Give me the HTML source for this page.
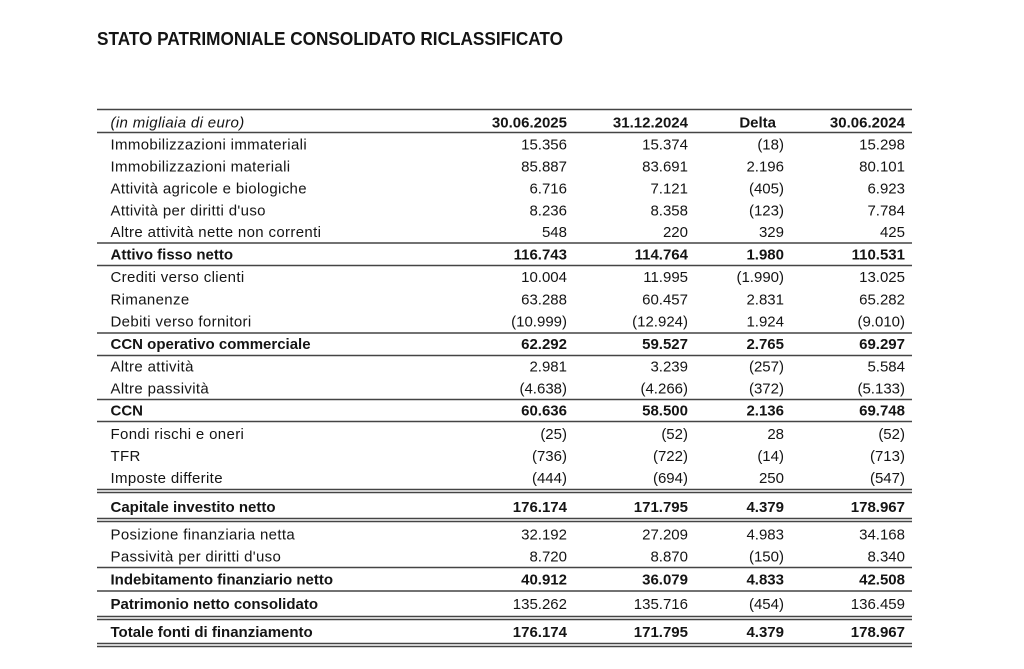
<!DOCTYPE html>
<html><head><meta charset="utf-8"><style>
html,body{margin:0;padding:0;background:#fff;width:1024px;height:669px;overflow:hidden}
svg{display:block}
text{font-family:"Liberation Sans",sans-serif;fill:#141414;font-size:15px}
.l{letter-spacing:0.35px}
.b{font-weight:bold}
.n{text-anchor:end}
</style></head><body>
<svg width="1024" height="669" viewBox="0 0 1024 669" xmlns="http://www.w3.org/2000/svg">
<text x="97" y="45" class="b" style="font-size:18.5px" textLength="466" lengthAdjust="spacingAndGlyphs">STATO PATRIMONIALE CONSOLIDATO RICLASSIFICATO</text>

<g stroke="#444" stroke-width="1.5">
<line x1="97" x2="912" y1="109.5" y2="109.5"/>
<line x1="97" x2="912" y1="132.5" y2="132.5"/>
<line x1="97" x2="912" y1="243" y2="243"/>
<line x1="97" x2="912" y1="265.5" y2="265.5"/>
<line x1="97" x2="912" y1="333" y2="333"/>
<line x1="97" x2="912" y1="355.5" y2="355.5"/>
<line x1="97" x2="912" y1="399.5" y2="399.5"/>
<line x1="97" x2="912" y1="421.5" y2="421.5"/>
<line x1="97" x2="912" y1="489.5" y2="489.5"/>
<line x1="97" x2="912" y1="492.5" y2="492.5"/>
<line x1="97" x2="912" y1="518.5" y2="518.5"/>
<line x1="97" x2="912" y1="521.5" y2="521.5"/>
<line x1="97" x2="912" y1="567.5" y2="567.5"/>
<line x1="97" x2="912" y1="591" y2="591"/>
<line x1="97" x2="912" y1="616.5" y2="616.5"/>
<line x1="97" x2="912" y1="619.5" y2="619.5"/>
<line x1="97" x2="912" y1="643.5" y2="643.5"/>
<line x1="97" x2="912" y1="646.5" y2="646.5"/>
</g>

<!-- header -->
<text x="110.5" y="127.5" class="l" font-style="italic">(in migliaia di euro)</text>
<text x="567" y="127.5" class="b n">30.06.2025</text>
<text x="688" y="127.5" class="b n">31.12.2024</text>
<text x="776" y="127.5" class="b n">Delta</text>
<text x="905" y="127.5" class="b n">30.06.2024</text>

<!-- rows -->
<g>
<text x="110.5" y="149.5" class="l">Immobilizzazioni immateriali</text>
<text x="567" y="149.5" class="n">15.356</text><text x="688" y="149.5" class="n">15.374</text><text x="784" y="149.5" class="n">(18)</text><text x="905" y="149.5" class="n">15.298</text>

<text x="110.5" y="171.5" class="l">Immobilizzazioni materiali</text>
<text x="567" y="171.5" class="n">85.887</text><text x="688" y="171.5" class="n">83.691</text><text x="784" y="171.5" class="n">2.196</text><text x="905" y="171.5" class="n">80.101</text>

<text x="110.5" y="193.5" class="l">Attività agricole e biologiche</text>
<text x="567" y="193.5" class="n">6.716</text><text x="688" y="193.5" class="n">7.121</text><text x="784" y="193.5" class="n">(405)</text><text x="905" y="193.5" class="n">6.923</text>

<text x="110.5" y="215.5" class="l">Attività per diritti d'uso</text>
<text x="567" y="215.5" class="n">8.236</text><text x="688" y="215.5" class="n">8.358</text><text x="784" y="215.5" class="n">(123)</text><text x="905" y="215.5" class="n">7.784</text>

<text x="110.5" y="237" class="l">Altre attività nette non correnti</text>
<text x="567" y="237" class="n">548</text><text x="688" y="237" class="n">220</text><text x="784" y="237" class="n">329</text><text x="905" y="237" class="n">425</text>

<text x="110.5" y="259.5" class="b">Attivo fisso netto</text>
<text x="567" y="259.5" class="n b">116.743</text><text x="688" y="259.5" class="n b">114.764</text><text x="784" y="259.5" class="n b">1.980</text><text x="905" y="259.5" class="n b">110.531</text>

<text x="110.5" y="282" class="l">Crediti verso clienti</text>
<text x="567" y="282" class="n">10.004</text><text x="688" y="282" class="n">11.995</text><text x="784" y="282" class="n">(1.990)</text><text x="905" y="282" class="n">13.025</text>

<text x="110.5" y="304.5" class="l">Rimanenze</text>
<text x="567" y="304.5" class="n">63.288</text><text x="688" y="304.5" class="n">60.457</text><text x="784" y="304.5" class="n">2.831</text><text x="905" y="304.5" class="n">65.282</text>

<text x="110.5" y="326.5" class="l">Debiti verso fornitori</text>
<text x="567" y="326.5" class="n">(10.999)</text><text x="688" y="326.5" class="n">(12.924)</text><text x="784" y="326.5" class="n">1.924</text><text x="905" y="326.5" class="n">(9.010)</text>

<text x="110.5" y="349" class="b">CCN operativo commerciale</text>
<text x="567" y="349" class="n b">62.292</text><text x="688" y="349" class="n b">59.527</text><text x="784" y="349" class="n b">2.765</text><text x="905" y="349" class="n b">69.297</text>

<text x="110.5" y="371.5" class="l">Altre attività</text>
<text x="567" y="371.5" class="n">2.981</text><text x="688" y="371.5" class="n">3.239</text><text x="784" y="371.5" class="n">(257)</text><text x="905" y="371.5" class="n">5.584</text>

<text x="110.5" y="393.5" class="l">Altre passività</text>
<text x="567" y="393.5" class="n">(4.638)</text><text x="688" y="393.5" class="n">(4.266)</text><text x="784" y="393.5" class="n">(372)</text><text x="905" y="393.5" class="n">(5.133)</text>

<text x="110.5" y="415.5" class="b">CCN</text>
<text x="567" y="415.5" class="n b">60.636</text><text x="688" y="415.5" class="n b">58.500</text><text x="784" y="415.5" class="n b">2.136</text><text x="905" y="415.5" class="n b">69.748</text>

<text x="110.5" y="439" class="l">Fondi rischi e oneri</text>
<text x="567" y="439" class="n">(25)</text><text x="688" y="439" class="n">(52)</text><text x="784" y="439" class="n">28</text><text x="905" y="439" class="n">(52)</text>

<text x="110.5" y="461" class="l">TFR</text>
<text x="567" y="461" class="n">(736)</text><text x="688" y="461" class="n">(722)</text><text x="784" y="461" class="n">(14)</text><text x="905" y="461" class="n">(713)</text>

<text x="110.5" y="483" class="l">Imposte differite</text>
<text x="567" y="483" class="n">(444)</text><text x="688" y="483" class="n">(694)</text><text x="784" y="483" class="n">250</text><text x="905" y="483" class="n">(547)</text>

<text x="110.5" y="512" class="b">Capitale investito netto</text>
<text x="567" y="512" class="n b">176.174</text><text x="688" y="512" class="n b">171.795</text><text x="784" y="512" class="n b">4.379</text><text x="905" y="512" class="n b">178.967</text>

<text x="110.5" y="539.5" class="l">Posizione finanziaria netta</text>
<text x="567" y="539.5" class="n">32.192</text><text x="688" y="539.5" class="n">27.209</text><text x="784" y="539.5" class="n">4.983</text><text x="905" y="539.5" class="n">34.168</text>

<text x="110.5" y="561.5" class="l">Passività per diritti d'uso</text>
<text x="567" y="561.5" class="n">8.720</text><text x="688" y="561.5" class="n">8.870</text><text x="784" y="561.5" class="n">(150)</text><text x="905" y="561.5" class="n">8.340</text>

<text x="110.5" y="584.5" class="b">Indebitamento finanziario netto</text>
<text x="567" y="584.5" class="n b">40.912</text><text x="688" y="584.5" class="n b">36.079</text><text x="784" y="584.5" class="n b">4.833</text><text x="905" y="584.5" class="n b">42.508</text>

<text x="110.5" y="609" class="b">Patrimonio netto consolidato</text>
<text x="567" y="609" class="n">135.262</text><text x="688" y="609" class="n">135.716</text><text x="784" y="609" class="n">(454)</text><text x="905" y="609" class="n">136.459</text>

<text x="110.5" y="637" class="b">Totale fonti di finanziamento</text>
<text x="567" y="637" class="n b">176.174</text><text x="688" y="637" class="n b">171.795</text><text x="784" y="637" class="n b">4.379</text><text x="905" y="637" class="n b">178.967</text>
</g>
</svg>
</body></html>
